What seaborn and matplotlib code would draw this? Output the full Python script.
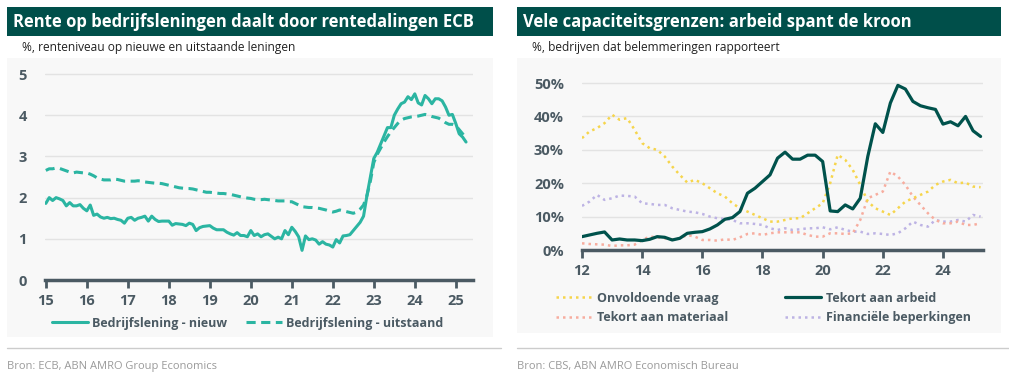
import numpy as np
import pandas as pd
import matplotlib
matplotlib.use("Agg")
import matplotlib.pyplot as plt
from matplotlib.patches import Rectangle
from matplotlib.ticker import FuncFormatter
import seaborn as sns

# --- data: left chart, monthly Jan 2015 - Apr 2025 (% interest) ---
loans_new = [
    1.86, 2.00, 1.93, 2.00, 1.97, 1.93, 1.80, 1.88, 1.80, 1.80, 1.83, 1.74,
    1.68, 1.82, 1.57, 1.60, 1.53, 1.50, 1.52, 1.49, 1.50, 1.47, 1.45, 1.38,
    1.50, 1.52, 1.45, 1.50, 1.52, 1.55, 1.43, 1.55, 1.47, 1.42, 1.43, 1.43,
    1.43, 1.33, 1.37, 1.36, 1.35, 1.32, 1.38, 1.35, 1.20, 1.27, 1.30, 1.31,
    1.32, 1.26, 1.22, 1.22, 1.22, 1.16, 1.12, 1.09, 1.15, 1.08, 1.08, 1.05,
    1.20, 1.08, 1.12, 1.05, 1.10, 1.12, 1.06, 1.00, 1.04, 1.00, 1.20, 1.10,
    1.28, 1.18, 1.05, 0.72, 1.07, 0.98, 1.00, 0.97, 0.87, 0.93, 0.87, 0.85,
    0.80, 0.98, 0.90, 1.07, 1.08, 1.10, 1.20, 1.30, 1.40, 1.55, 2.05, 2.50,
    2.95, 3.10, 3.30, 3.50, 3.70, 3.70, 4.00, 4.15, 4.28, 4.32, 4.45, 4.38,
    4.52, 4.30, 4.25, 4.48, 4.40, 4.28, 4.40, 4.40, 4.35, 4.20, 4.00, 4.02,
    3.80, 3.55, 3.47, 3.35,
]
loans_outstanding = [
    2.66, 2.70, 2.70, 2.72, 2.71, 2.68, 2.65, 2.62, 2.60, 2.62, 2.61, 2.60,
    2.60, 2.57, 2.53, 2.48, 2.45, 2.43, 2.43, 2.43, 2.45, 2.44, 2.42, 2.40,
    2.40, 2.40, 2.40, 2.41, 2.40, 2.38, 2.37, 2.36, 2.35, 2.35, 2.34, 2.32,
    2.30, 2.28, 2.26, 2.24, 2.23, 2.22, 2.22, 2.21, 2.19, 2.17, 2.15, 2.13,
    2.13, 2.12, 2.11, 2.10, 2.10, 2.09, 2.08, 2.06, 2.04, 2.02, 2.00, 1.99,
    1.98, 1.96, 1.95, 1.95, 1.96, 1.95, 1.94, 1.93, 1.92, 1.92, 1.92, 1.90,
    1.90, 1.86, 1.82, 1.78, 1.77, 1.76, 1.76, 1.75, 1.74, 1.72, 1.70, 1.67,
    1.65, 1.67, 1.70, 1.68, 1.66, 1.64, 1.62, 1.65, 1.72, 1.82, 2.05, 2.40,
    2.85, 3.05, 3.20, 3.35, 3.48, 3.60, 3.70, 3.80, 3.88, 3.92, 3.94, 3.96,
    3.97, 3.98, 4.00, 4.02, 4.00, 3.97, 3.95, 3.93, 3.88, 3.82, 3.78, 3.78,
    3.75, 3.65, 3.55, 3.45,
]
left_labels = ["Bedrijfslening - nieuw", "Bedrijfslening - uitstaand"]
left_ticks = list(range(15, 26))

# --- data: right chart, quarterly 2012Q1 - 2025Q2 (% of firms) ---
demand = [
    33.5, 35.5, 36.5, 38.0, 40.5, 39.0, 39.5, 36.0, 32.0, 30.5, 30.0, 28.0,
    25.0, 22.5, 20.2, 21.0, 20.0, 18.5, 17.0, 16.0, 14.0, 12.5, 11.5, 10.5,
    9.5, 8.5, 8.5, 9.0, 9.5, 9.5, 11.0, 12.5, 14.0, 20.0, 28.5, 27.0,
    24.0, 19.5, 14.5, 12.5, 11.5, 10.5, 12.5, 14.5, 15.5, 16.5, 17.5, 19.5,
    20.5, 21.0, 20.0, 20.2, 19.0, 18.8,
]
labour = [
    4.0, 4.5, 5.0, 5.4, 3.0, 3.3, 3.0, 3.0, 2.8, 3.2, 4.0, 3.8,
    3.0, 3.5, 5.0, 5.3, 5.5, 6.3, 7.5, 9.2, 9.7, 11.5, 17.0, 18.5,
    20.5, 22.5, 27.5, 29.3, 27.2, 27.2, 28.4, 28.4, 26.5, 11.7, 11.5, 13.5,
    12.3, 15.5, 28.0, 37.8, 35.2, 44.0, 49.3, 48.2, 44.5, 43.2, 42.6, 42.1,
    37.7, 38.4, 37.2, 40.0, 35.7, 34.0,
]
material = [
    2.0, 1.8, 1.7, 1.6, 1.2, 1.4, 1.4, 1.6, 3.0, 4.0, 3.8, 3.5,
    3.2, 3.5, 4.5, 4.0, 3.0, 3.0, 2.8, 3.2, 3.0, 3.8, 4.8, 5.0,
    4.5, 5.0, 5.3, 5.3, 5.3, 5.3, 4.5, 4.0, 4.0, 5.0, 5.0, 4.8,
    5.0, 9.0, 15.5, 16.5, 17.5, 23.5, 22.0, 19.5, 16.0, 13.5, 11.0, 9.0,
    8.0, 8.0, 8.5, 7.5, 7.5, 8.0,
]
financial = [
    13.2, 14.5, 16.5, 15.0, 15.5, 16.3, 16.2, 16.0, 14.0, 13.8, 13.5, 13.5,
    12.5, 12.0, 11.5, 11.3, 10.8, 10.0, 9.5, 9.3, 9.0, 8.0, 8.0, 7.8,
    7.5, 6.5, 6.0, 6.5, 6.0, 6.2, 6.5, 6.5, 6.8, 6.2, 6.8, 6.0,
    5.5, 5.5, 4.8, 5.0, 4.8, 4.5, 5.0, 6.5, 8.5, 7.5, 7.0, 9.0,
    8.5, 8.5, 9.0, 8.5, 10.5, 10.0,
]
right_labels = ["Onvoldoende vraag", "Tekort aan arbeid",
                "Tekort aan materiaal", "Financiële beperkingen"]
right_ticks = list(range(12, 25, 2))

# time axes (years as 2-digit numbers)
months = pd.date_range("2015-01-01", periods=len(loans_new), freq="MS")
left_t = (months.year - 2000) + (months.month - 1) / 12
quarters = pd.date_range("2012-01-01", periods=len(labour), freq="QS")
right_t = (quarters.year - 2000) + (quarters.month - 1) / 12

sns.set_style("white")
plt.rcParams["font.family"] = ["Open Sans", "DejaVu Sans"]

TEAL = "#2bb5a2"
DARK = "#00524c"
AXIS = "#4b5a63"
GRID = "#e3e3e3"
BG = "#f8f8f8"

W, H = 1009, 383
fig = plt.figure(figsize=(W / 100, H / 100), dpi=100)
fig.patch.set_facecolor("white")


def px(x0, y0, x1, y1):
    # pixel box -> figure fraction [l, b, w, h]
    return [x0 / W, 1 - y1 / H, (x1 - x0) / W, (y1 - y0) / H]


def panel(x0, x1, bg_bottom, title, subtitle, source):
    l, b, w, h = px(x0, 58, x1, bg_bottom)
    fig.patches.append(Rectangle((l, b), w, h, transform=fig.transFigure,
                                 facecolor=BG, edgecolor="none", zorder=-2))
    l, b, w, h = px(x0, 7, x1, 36)
    fig.patches.append(Rectangle((l, b), w, h, transform=fig.transFigure,
                                 facecolor="#004f4a", edgecolor="none", zorder=-2))
    fig.text((x0 + 6) / W, 1 - 22 / H, title, color="white", fontsize=12,
             fontweight="bold", va="center", ha="left")
    fig.text((x0 + 15) / W, 1 - 47 / H, subtitle, color="#222222",
             fontsize=8.6, va="center", ha="left")
    fig.lines.append(plt.Line2D([x0 / W, (x1 + 8) / W], [1 - 348 / H] * 2,
                                transform=fig.transFigure, color="#cccccc", lw=1))
    fig.text((x0 + 0) / W, 1 - 366 / H, source, color="#9a9a9a",
             fontsize=8, va="center", ha="left")


panel(7, 493, 337, "Rente op bedrijfsleningen daalt door rentedalingen ECB",
      "%, renteniveau op nieuwe en uitstaande leningen",
      "Bron: ECB, ABN AMRO Group Economics")
panel(517, 1001, 333, "Vele capaciteitsgrenzen: arbeid spant de kroon",
      "%, bedrijven dat belemmeringen rapporteert",
      "Bron: CBS, ABN AMRO Economisch Bureau")


def style_axis(ax):
    ax.set_facecolor("none")
    for s in ["top", "right", "left"]:
        ax.spines[s].set_visible(False)
    ax.spines["bottom"].set_color(AXIS)
    ax.spines["bottom"].set_linewidth(2.5)
    ax.yaxis.grid(True, color=GRID, lw=1)
    ax.xaxis.grid(False)
    ax.set_axisbelow(True)
    ax.tick_params(axis="x", bottom=True, direction="out", length=6, width=2,
                   color=AXIS, labelcolor=AXIS, labelsize=10.5, pad=4)
    ax.tick_params(axis="y", left=False, length=0, labelcolor=AXIS,
                   labelsize=10.5, pad=13)
    for lab in ax.get_xticklabels() + ax.get_yticklabels():
        lab.set_fontweight("bold")
    ax.set_xlabel("")
    ax.set_ylabel("")


# ---- left chart ----
ax1 = fig.add_axes(px(45, 72, 473, 280))
df_left = pd.DataFrame({"t": left_t, left_labels[0]: loans_new,
                        left_labels[1]: loans_outstanding})
sns.lineplot(data=df_left, x="t", y=left_labels[0], ax=ax1, color=TEAL,
             lw=2.2, label=left_labels[0])
sns.lineplot(data=df_left, x="t", y=left_labels[1], ax=ax1, color=TEAL,
             lw=2.2, label=left_labels[1])
ax1.lines[1].set_dashes((3, 1.8))
ax1.set_xlim(14.98, 25.42)
ax1.set_ylim(0, 5.05)
ax1.set_xticks(left_ticks)
ax1.set_xticklabels([str(t) for t in left_ticks])
ax1.set_yticks(range(0, 6))
style_axis(ax1)
ax1.legend(loc="center left", bbox_to_anchor=(52 / W, 1 - 323 / H),
           bbox_transform=fig.transFigure, ncol=2, frameon=False,
           handlelength=2.9, handletextpad=0.3, columnspacing=1.5,
           prop={"size": 9, "weight": "bold"}, labelcolor=AXIS,
           borderaxespad=0, borderpad=0)

# ---- right chart ----
ax2 = fig.add_axes(px(582, 79.7, 983, 250))
df_right = pd.DataFrame({"t": right_t, right_labels[0]: demand,
                         right_labels[1]: labour, right_labels[2]: material,
                         right_labels[3]: financial})
sns.lineplot(data=df_right, x="t", y=right_labels[3], ax=ax2, color="#bdb3e4",
             lw=1.8, label=right_labels[3])
sns.lineplot(data=df_right, x="t", y=right_labels[2], ax=ax2, color="#f7ad9f",
             lw=1.8, label=right_labels[2])
sns.lineplot(data=df_right, x="t", y=right_labels[0], ax=ax2, color="#f6d54c",
             lw=1.8, label=right_labels[0])
sns.lineplot(data=df_right, x="t", y=right_labels[1], ax=ax2, color=DARK,
             lw=2.3, label=right_labels[1])
for ln in ax2.lines[:3]:
    ln.set_linestyle((0, (1, 1.6)))
ax2.set_xlim(12, 25.33)
ax2.set_ylim(0, 51)
ax2.set_xticks(right_ticks)
ax2.set_xticklabels([str(t) for t in right_ticks])
ax2.set_yticks(range(0, 51, 10))
ax2.yaxis.set_major_formatter(FuncFormatter(lambda v, p: f"{v:.0f}%"))
style_axis(ax2)
h, lab = ax2.get_legend_handles_labels()
order = [2, 1, 3, 0]  # vraag, materiaal, arbeid, financieel (column-wise)
ax2.legend([h[i] for i in order], [lab[i] for i in order],
           loc="center left", bbox_to_anchor=(556 / W, 1 - 308 / H),
           bbox_transform=fig.transFigure, ncol=2, frameon=False,
           handlelength=2.9, handletextpad=0.4, columnspacing=4.5,
           labelspacing=0.55, prop={"size": 9, "weight": "bold"},
           labelcolor=AXIS, borderaxespad=0, borderpad=0)

fig.savefig("out.png", dpi=100)
